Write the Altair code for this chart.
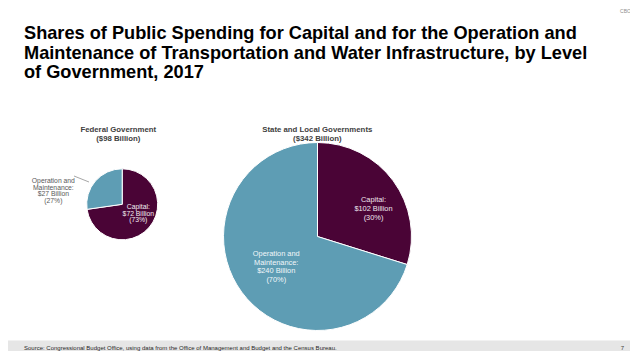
import altair as alt
import pandas as pd

# ---------------- data ----------------
categories = ["Capital", "Operation and Maintenance"]
category_labels = ["Capital:", "Operation and\nMaintenance:"]
federal_values = [72, 27]
federal_pcts = [73, 27]
state_values = [102, 240]
state_pcts = [30, 70]

title_lines = [
    "Shares of Public Spending for Capital and for the Operation and",
    "Maintenance of Transportation and Water Infrastructure, by Level",
    "of Government, 2017",
]
pie_titles = ["Federal Government\n($98 Billion)", "State and Local Governments\n($342 Billion)"]
source_text = ("Source: Congressional Budget Office, using data from the Office of "
               "Management and Budget and the Census Bureau.")
page_number = "7"
agency = "CBO"

# ---------------- style ----------------
FONT = "Liberation Sans"
MAROON = "#4a0436"
TEAL = "#5e9db4"
W, H = 622, 343


def make_df(values, pcts):
    return pd.DataFrame({
        "category": categories,
        "value": values,
        "order": list(range(len(categories))),
        "label": [f"{c}\n${v} Billion\n({p}%)" for c, v, p in zip(category_labels, values, pcts)],
    })


color_scale = alt.Scale(domain=categories, range=[MAROON, TEAL])


def pie(df, cx, cy, R, label_cfg):
    base = alt.Chart(df).encode(
        theta=alt.Theta("value:Q", stack="normalize"),
        order=alt.Order("order:Q"),
    )
    layers = [
        base.mark_arc(outerRadius=R, stroke="white", strokeWidth=1).encode(
            color=alt.Color("category:N", scale=color_scale, legend=None),
            x=alt.value(cx), y=alt.value(cy),
        )
    ]
    for cat, (r, dx, dy, col, size, lh) in label_cfg.items():
        layers.append(
            base.mark_text(radius=r, dx=dx, dy=dy, lineBreak="\n", fontSize=size, font=FONT,
                           color=col, align="center", baseline="middle", lineHeight=lh).encode(
                text=alt.condition(alt.datum.category == cat, "label:N", alt.value("")),
                x=alt.value(cx), y=alt.value(cy),
            )
        )
    return layers


fed_layers = pie(make_df(federal_values, federal_pcts), 114.2, 196.3, 35.5, {
    "Capital": (16, 4, -8, "#f4eef2", 6.8, 6.8),
    "Operation and Maintenance": (60, -23.5, 16, "#595959", 6.8, 6.5),
})
state_layers = pie(make_df(state_values, state_pcts), 309.5, 228.5, 94, {
    "Capital": (67, 2, 3, "#f0e6ee", 7.4, 9),
    "Operation and Maintenance": (45, -5, -9, "#f2f7fa", 7.4, 8.5),
})

one = pd.DataFrame({"k": [0]})


def static_text(txt, x, y, **kw):
    return alt.Chart(one).mark_text(font=FONT, lineBreak="\n", **kw).encode(
        text=alt.value(txt), x=alt.value(x), y=alt.value(y))


footer_band = alt.Chart(one).mark_rect(color="#e6e6e6").encode(
    x=alt.value(0), x2=alt.value(W), y=alt.value(332.5), y2=alt.value(H))

leader = alt.Chart(one).mark_rule(color="#808080", strokeWidth=0.7).encode(
    x=alt.value(66), y=alt.value(168), x2=alt.value(81), y2=alt.value(174))

title = static_text("\n".join(title_lines), 16, 31, fontSize=18.2, fontWeight="bold",
                    color="#000000", align="left", baseline="alphabetic", lineHeight=19.5)
fed_title = static_text(pie_titles[0], 110.3, 121.7, fontSize=7.8, fontWeight="bold",
                        color="#404040", align="center", baseline="middle", lineHeight=9.3)
state_title = static_text(pie_titles[1], 309.3, 121.5, fontSize=7.8, fontWeight="bold",
                          color="#404040", align="center", baseline="middle", lineHeight=9.3)
source = static_text(source_text, 16, 340, fontSize=6, color="#262626",
                     align="left", baseline="middle")
pnum = static_text(page_number, 614.5, 340, fontSize=6, color="#404040",
                   align="center", baseline="middle")
cbo = static_text(agency, 617.5, 0.5, fontSize=5, color="#8c8c8c",
                  align="center", baseline="top")

chart = alt.layer(
    footer_band, *fed_layers, *state_layers, leader,
    title, fed_title, state_title, source, pnum, cbo,
).properties(
    width=W, height=H, padding=0,
    autosize=alt.AutoSizeParams(type="none"),
    background="white",
).configure_view(stroke=None)

chart.save("out.html", embed_options={"renderer": "svg", "actions": False})
